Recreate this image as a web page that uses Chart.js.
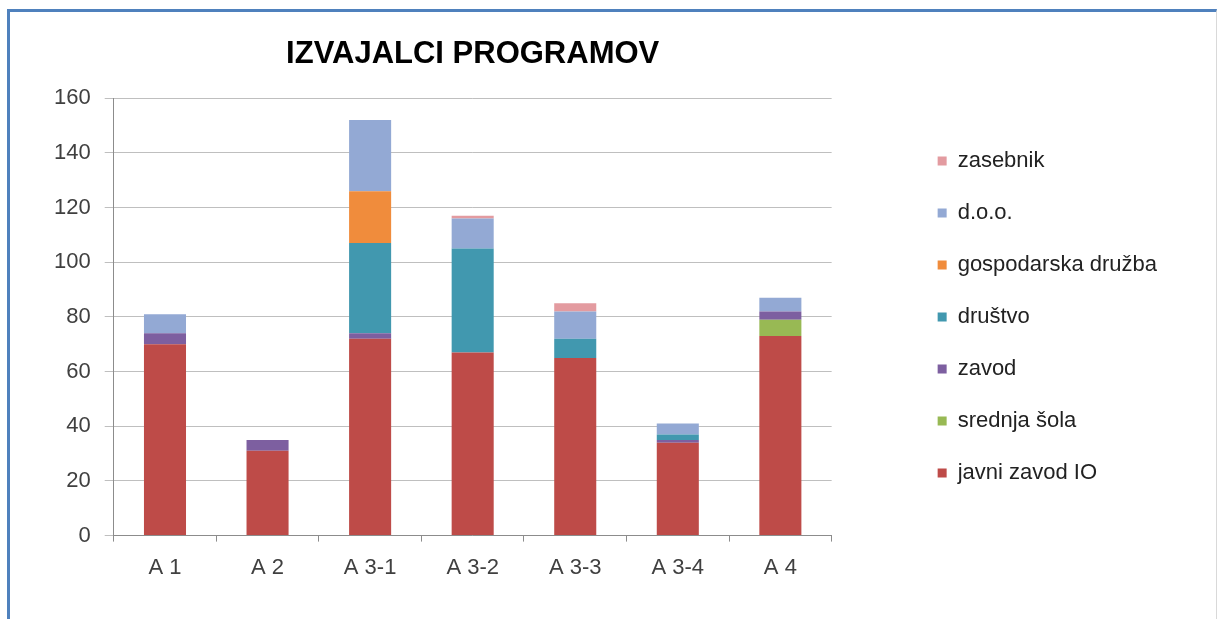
<!DOCTYPE html>
<html lang="sl">
<head>
    <meta charset="UTF-8">
    <title>Izvajalci programov</title>
    <script src="https://cdn.jsdelivr.net/npm/chart.js"></script>
    <style>
        html, body { margin: 0; padding: 0; background: #fff; }
        .frame {
            position: absolute; left: 7px; top: 9px;
            width: 1206px; height: 610px;
            border-top: 3px solid #4f81bd; border-left: 3px solid #4f81bd;
            border-right: 1px solid #d9d9d9;
        }
        .frame canvas { display: block; }
    </style>
</head>
<body>
<div class="frame">
    <canvas id="izvajalci" width="1206" height="610"></canvas>
</div>

<script>
    // kategorije (programi)
    const categories = ['A 1', 'A 2', 'A 3-1', 'A 3-2', 'A 3-3', 'A 3-4', 'A 4'];

    // vrednosti po izvajalcih (ocenjeno s slike)
    const javniZavodIO      = [70, 31, 72, 67, 65, 34, 73];
    const srednjaSola       = [0, 0, 0, 0, 0, 0, 6];
    const zavod             = [4, 4, 2, 0, 0, 1, 3];
    const drustvo           = [0, 0, 33, 38, 7, 2, 0];
    const gospodarskaDruzba = [0, 0, 19, 0, 0, 0, 0];
    const doo               = [7, 0, 26, 11, 10, 4, 5];
    const zasebnik          = [0, 0, 0, 1, 3, 0, 0];

    const yTicks = [0, 20, 40, 60, 80, 100, 120, 140, 160];

    Chart.defaults.font.family = '"Liberation Sans", Arial, sans-serif';
    Chart.defaults.font.size = 22;
    Chart.defaults.color = '#404040';

    const series = [
        { label: 'javni zavod IO', data: javniZavodIO, color: '#be4b48' },
        { label: 'srednja šola', data: srednjaSola, color: '#98b954' },
        { label: 'zavod', data: zavod, color: '#7d5fa0' },
        { label: 'društvo', data: drustvo, color: '#4198af' },
        { label: 'gospodarska družba', data: gospodarskaDruzba, color: '#f08c3c' },
        { label: 'd.o.o.', data: doo, color: '#93a9d4' },
        { label: 'zasebnik', data: zasebnik, color: '#e39ba0' }
    ];

    // legenda naj ne bo omejena na polovico sirine (da se besedilo ne odreze)
    const wideLegend = {
        id: 'wideLegend',
        afterInit(chart) {
            const legend = chart.legend;
            const fit = legend.fit;
            legend.fit = function () {
                this.maxWidth = 400;
                fit.call(this);
            };
        }
    };

    const ctx = document.getElementById('izvajalci').getContext('2d');
    new Chart(ctx, {
        type: 'bar',
        data: {
            labels: categories,
            datasets: series.map(s => ({
                label: s.label,
                data: s.data,
                backgroundColor: s.color,
                borderWidth: 0,
                barPercentage: 0.41,
                categoryPercentage: 1
            }))
        },
        options: {
            responsive: false,
            animation: false,
            layout: { padding: { left: 30, right: 49, top: 0, bottom: 28 } },
            plugins: {
                title: {
                    display: true,
                    text: 'IZVAJALCI PROGRAMOV',
                    fullSize: false,
                    color: '#000',
                    font: { size: 31, weight: 'bold' },
                    padding: { top: 24, bottom: 25 }
                },
                legend: {
                    position: 'right',
                    fullSize: false,
                    reverse: true,
                    labels: {
                        boxWidth: 9,
                        boxHeight: 9,
                        padding: 30,
                        color: '#222'
                    }
                },
                tooltip: { enabled: false }
            },
            scales: {
                x: {
                    stacked: true,
                    grid: { display: true, drawOnChartArea: false, drawTicks: true, tickLength: 6, color: '#8c8c8c', offset: true },
                    border: { color: '#8c8c8c' },
                    ticks: { padding: 13 }
                },
                y: {
                    stacked: true,
                    min: 0,
                    max: 160,
                    afterBuildTicks: axis => { axis.ticks = yTicks.map(v => ({ value: v })); },
                    grid: { color: '#bfbfbf', tickLength: 9, drawTicks: true },
                    border: { color: '#8c8c8c' },
                    ticks: { padding: 14 }
                },
                gap: {
                    position: 'right',
                    display: true,
                    grid: { display: false },
                    border: { display: false },
                    ticks: { display: false },
                    afterFit: axis => { axis.width = 76; }
                }
            }
        },
        plugins: [wideLegend]
    });
</script>
</body>
</html>
